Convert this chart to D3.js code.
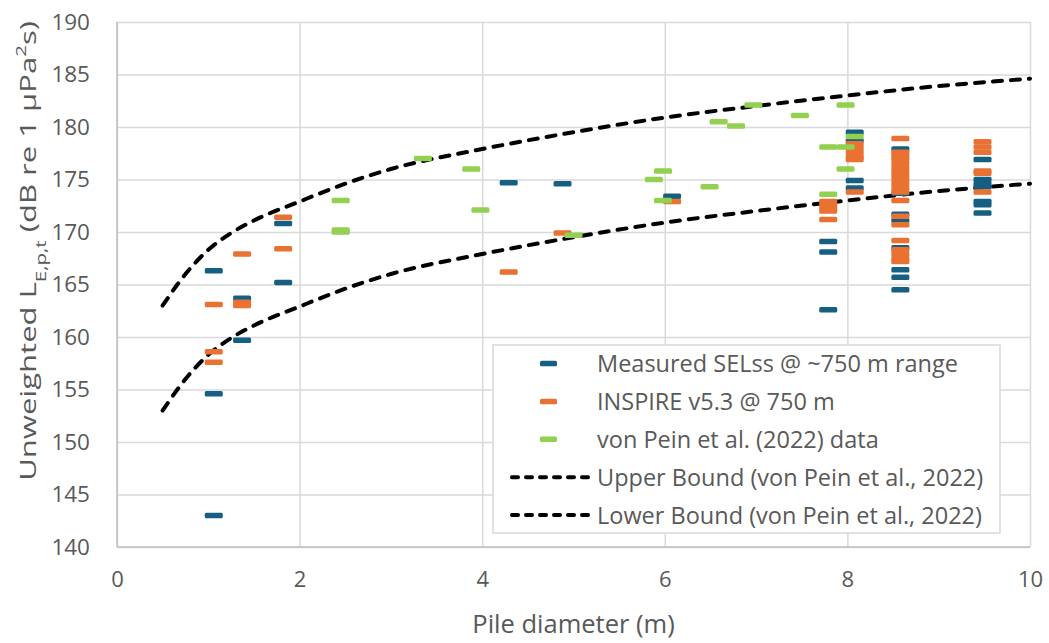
<!DOCTYPE html>
<html>
<head>
<meta charset="utf-8">
<script src="https://cdn.jsdelivr.net/npm/d3@7"></script>
<style>
    body { margin: 0; background: #fff; }
    text { font-family: "Open Sans", "Noto Sans", sans-serif; fill: #595959; }
</style>
</head>
<body>
<script>
//wrap everything in a self-executing anonymous function
(function(){

//data: [pile diameter (m), level (dB)]
var measured = [
    [1.06, 166.3], [1.06, 154.6], [1.06, 143.0],
    [1.37, 163.7], [1.37, 159.7],
    [1.82, 170.8], [1.82, 165.2],
    [4.29, 174.7], [4.88, 174.6], [6.08, 173.4],
    [7.79, 169.1], [7.79, 168.1], [7.79, 162.6],
    [8.08, 179.5], [8.08, 178.7], [8.08, 174.9], [8.08, 174.2],
    [8.58, 177.9], [8.58, 173.7], [8.58, 171.7], [8.58, 171.1], [8.58, 168.5],
    [8.58, 166.4], [8.58, 165.7], [8.58, 164.5],
    [9.48, 176.9], [9.48, 175.0], [9.48, 174.6], [9.48, 174.3],
    [9.48, 172.9], [9.48, 172.6], [9.48, 171.8]
];
var inspire = [
    [1.06, 163.1], [1.06, 158.6], [1.06, 157.6],
    [1.37, 167.9], [1.37, 163.3], [1.37, 163.0],
    [1.82, 171.4], [1.82, 168.4],
    [4.29, 166.2], [4.88, 169.9], [6.08, 172.9],
    [7.79, 172.9], [7.79, 172.6], [7.79, 172.3], [7.79, 172.0], [7.79, 171.2],
    [8.08, 178.4], [8.08, 178.0], [8.08, 177.6], [8.08, 177.2], [8.08, 176.9], [8.08, 173.8],
    [8.58, 178.9], [8.58, 177.6], [8.58, 177.3], [8.58, 177.0], [8.58, 176.6], [8.58, 176.2],
    [8.58, 175.8], [8.58, 175.4], [8.58, 175.0], [8.58, 174.6], [8.58, 174.2], [8.58, 173.8],
    [8.58, 173.0], [8.58, 171.5], [8.58, 170.7], [8.58, 169.2], [8.58, 168.3],
    [8.58, 167.9], [8.58, 167.5], [8.58, 167.2],
    [9.48, 178.6], [9.48, 178.1], [9.48, 177.6], [9.48, 175.8], [9.48, 175.6], [9.48, 173.8]
];
var vonPein = [
    [2.45, 173.0], [2.45, 170.2], [2.45, 170.0],
    [3.35, 177.0], [3.88, 176.0], [3.98, 172.1], [5.00, 169.7],
    [5.88, 175.0], [5.98, 175.8], [5.98, 173.0], [6.49, 174.3],
    [6.59, 180.5], [6.78, 180.1], [6.97, 182.1], [7.48, 181.1],
    [7.79, 178.1], [7.79, 173.6],
    [7.98, 182.1], [7.98, 178.1], [7.98, 176.0], [8.08, 179.1]
];

//bound curves
var boundX = [0.5, 0.75, 1, 1.25, 1.5, 2, 2.5, 3, 4, 5, 6, 7, 8, 9, 10];
var upperBound = [163.0, 166.0, 168.3, 169.9, 171.1, 172.9, 174.6, 176.0, 177.9, 179.5, 180.9, 182.0, 183.0, 183.9, 184.6];
var lowerBound = [153.0, 156.0, 158.3, 159.9, 161.1, 162.9, 164.6, 166.0, 167.9, 169.5, 170.9, 172.0, 173.0, 173.9, 174.6];

var xTicks = [0, 2, 4, 6, 8, 10];
var yTicks = [140, 145, 150, 155, 160, 165, 170, 175, 180, 185, 190];

var colors = { measured: "#156082", inspire: "#E97132", vonPein: "#92D050" };
var legendLabels = [
    "Measured SELss @ ~750 m range",
    "INSPIRE v5.3 @ 750 m",
    "von Pein et al. (2022) data",
    "Upper Bound (von Pein et al., 2022)",
    "Lower Bound (von Pein et al., 2022)"
];

//frame dimensions
var width = 1049, height = 643;
var margin = { top: 22, right: 19, bottom: 96, left: 117 };

var svg = d3.select("body")
    .append("svg")
    .attr("width", width)
    .attr("height", height);

var x = d3.scaleLinear().domain([0, 10]).range([margin.left, width - margin.right]);
var y = d3.scaleLinear().domain([140, 190]).range([height - margin.bottom, margin.top]);

//gridlines
svg.append("g")
    .attr("class", "grid")
    .attr("transform", "translate(0," + y(140) + ")")
    .call(d3.axisBottom(x).tickValues(xTicks).tickSize(-(y(140) - y(190))).tickFormat(""))
    .call(function(g){ g.select(".domain").remove(); })
    .selectAll("line").attr("stroke", "#d9d9d9").attr("stroke-width", 1.5);

svg.append("g")
    .attr("class", "grid")
    .attr("transform", "translate(" + x(0) + ",0)")
    .call(d3.axisLeft(y).tickValues(yTicks).tickSize(-(x(10) - x(0))).tickFormat(""))
    .call(function(g){ g.select(".domain").remove(); })
    .selectAll("line").attr("stroke", "#d9d9d9").attr("stroke-width", 1.5);

//axis lines
svg.append("line")
    .attr("x1", x(0)).attr("x2", x(10)).attr("y1", y(140)).attr("y2", y(140))
    .attr("stroke", "#bfbfbf").attr("stroke-width", 1.5);
svg.append("line")
    .attr("x1", x(0)).attr("x2", x(0)).attr("y1", y(140)).attr("y2", y(190))
    .attr("stroke", "#bfbfbf").attr("stroke-width", 1.5);

//tick labels
var xAxis = svg.append("g")
    .attr("transform", "translate(0," + y(140) + ")")
    .call(d3.axisBottom(x).tickValues(xTicks).tickSize(0).tickPadding(24));
xAxis.select(".domain").remove();
xAxis.selectAll("text").style("font-size", "22px").attr("fill", "#595959");

var yAxis = svg.append("g")
    .attr("transform", "translate(" + x(0) + ",0)")
    .call(d3.axisLeft(y).tickValues(yTicks).tickSize(0).tickPadding(27));
yAxis.select(".domain").remove();
yAxis.selectAll("text").style("font-size", "22.5px").attr("fill", "#595959");

//axis titles
svg.append("text")
    .attr("x", (x(0) + x(10)) / 2)
    .attr("y", 633)
    .attr("text-anchor", "middle")
    .style("font-size", "25.5px")
    .text("Pile diameter (m)");

var yTitle = svg.append("text")
    .attr("text-anchor", "middle")
    .style("font-size", "22px");
yTitle.append("tspan").text("Unweighted L");
yTitle.append("tspan").attr("baseline-shift", "sub").style("font-size", "14.5px").text("E,p,t");
yTitle.append("tspan").text(" (dB re 1 µPa");
yTitle.append("tspan").attr("baseline-shift", "super").style("font-size", "14.5px").text("2");
yTitle.append("tspan").text("s)");
//stretch the rotated title along its length to fill the axis like the original
var titleLen = yTitle.node().getBBox().width;
yTitle.attr("transform", "translate(36,251) rotate(-90) scale(" + (460 / titleLen) + ",1)");

//dashed bound curves
var line = d3.line()
    .x(function(d){ return x(d[0]); })
    .y(function(d){ return y(d[1]); })
    .curve(d3.curveMonotoneX);

[upperBound, lowerBound].forEach(function(arr){
    svg.append("path")
        .datum(boundX.map(function(v, i){ return [v, arr[i]]; }))
        .attr("fill", "none")
        .attr("stroke", "#000")
        .attr("stroke-width", 4)
        .attr("stroke-linecap", "round")
        .attr("stroke-dasharray", "9,9")
        .attr("d", line);
});

//dash markers
function drawMarkers(data, color){
    svg.append("g")
        .selectAll("rect")
        .data(data)
        .enter()
        .append("rect")
        .attr("x", function(d){ return x(d[0]) - 9; })
        .attr("y", function(d){ return y(d[1]) - 2.75; })
        .attr("width", 18)
        .attr("height", 5.5)
        .attr("rx", 1.5)
        .attr("fill", color);
}
drawMarkers(measured, colors.measured);
drawMarkers(inspire, colors.inspire);
drawMarkers(vonPein, colors.vonPein);

//legend
var legend = svg.append("g").attr("class", "legend");
legend.append("rect")
    .attr("x", 493).attr("y", 345)
    .attr("width", 507).attr("height", 188)
    .attr("fill", "#fff")
    .attr("stroke", "#d9d9d9")
    .attr("stroke-width", 1.5);

var legendColors = [colors.measured, colors.inspire, colors.vonPein];
legendLabels.forEach(function(label, i){
    var ly = 363.5 + i * 37.9;
    if (i < 3){
        legend.append("rect")
            .attr("x", 540).attr("y", ly - 2.75)
            .attr("width", 17).attr("height", 5.5)
            .attr("rx", 1.5)
            .attr("fill", legendColors[i]);
    } else {
        legend.append("line")
            .attr("x1", 512).attr("x2", 592)
            .attr("y1", ly).attr("y2", ly)
            .attr("stroke", "#000")
            .attr("stroke-width", 4)
            .attr("stroke-linecap", "round")
            .attr("stroke-dasharray", "6,8");
    }
    legend.append("text")
        .attr("x", 597)
        .attr("y", ly)
        .attr("dy", "0.36em")
        .style("font-size", "23.5px")
        .text(label);
});

})();
</script>
</body>
</html>
